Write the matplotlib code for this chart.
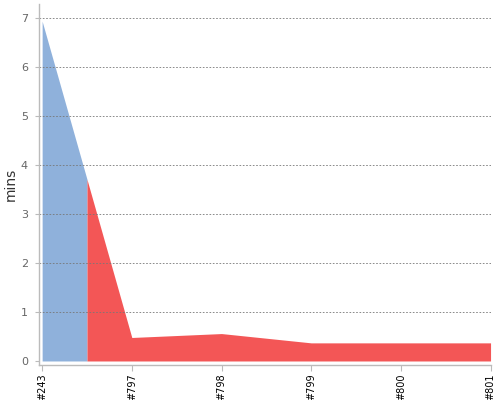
import matplotlib
matplotlib.use("Agg")
import matplotlib.pyplot as plt
import numpy as np

builds = ["#243", "#797", "#798", "#799", "#800", "#801"]
durations = [6.94, 0.48, 0.56, 0.37, 0.37, 0.37]
status = ["success", "failure", "failure", "failure", "failure", "failure"]

colors = {"success": "#8fb1db", "failure": "#f35656"}

x = np.arange(len(builds))
y = np.array(durations)

fig = plt.figure(figsize=(5, 4), dpi=100)
ax = fig.add_axes([0.078, 0.0875, 0.904, 0.9025])

# runs of builds with the same status share one coloured area,
# each run reaching half way to the neighbouring builds
n = len(builds)
start = 0
for i in range(1, n + 1):
    if i == n or status[i] != status[start]:
        lo = max(start - 0.5, 0)
        hi = min(i - 0.5, n - 1)
        xs = [lo] + [k for k in x if lo < k < hi] + [hi]
        ys = np.interp(xs, x, y)
        ax.fill_between(xs, 0, ys, color=colors[status[start]], linewidth=0, zorder=1)
        start = i

ax.set_xlim(-0.035, 5.005)
ax.set_ylim(-0.082, 7.29)
ax.set_xticks(x)
ax.set_xticklabels(builds, rotation=90, fontsize=7, color="black")
ax.set_yticks(range(0, 8))
ax.tick_params(axis="y", labelsize=8, colors="#666666", length=3, width=0.8, pad=5)
ax.tick_params(axis="x", length=4, width=0.8, color="#bbbbbb", pad=2)
ax.tick_params(axis="y", color="#bbbbbb")
for lab in ax.get_yticklabels():
    lab.set_color("#666666")

ax.set_ylabel("mins", fontsize=10, color="#333333", labelpad=2)

for yy in range(1, 8):
    ax.axhline(yy, color="#777777", linestyle=(0, (2, 2)), linewidth=0.6, zorder=2)

for side in ["top", "right"]:
    ax.spines[side].set_visible(False)
for side in ["left", "bottom"]:
    ax.spines[side].set_color("#bbbbbb")
    ax.spines[side].set_linewidth(1.0)

plt.savefig("out.png", dpi=100)
